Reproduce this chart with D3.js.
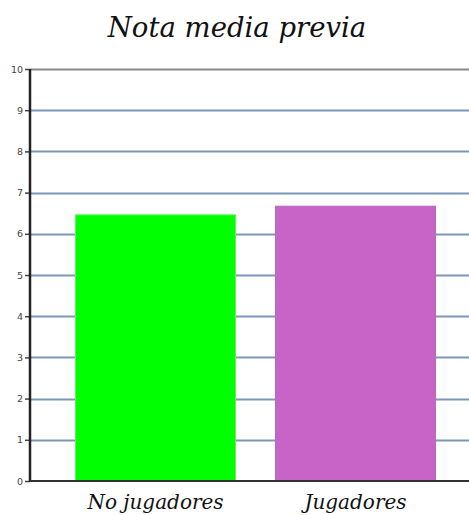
<!DOCTYPE html>
<html><head><meta charset="utf-8">
<script src="https://cdn.jsdelivr.net/npm/d3@7"></script>
<style>body{margin:0;background:#fff}svg{display:block}</style>
</head><body><svg id="c" width="469" height="515"></svg>
<script>
const categories = ["No jugadores", "Jugadores"];
const values = [6.46, 6.67];
const colors = ["#00ff00", "#c864c8"];
const strokes = ["#66ee66", "#b868c0"];
const yTicks = [0,1,2,3,4,5,6,7,8,9,10];
const title = "Nota media previa";

const svg = d3.select("#c");
const axisX = 30, right = 480, y0 = 481, y10 = 69;
const y = d3.scaleLinear().domain([0,10]).range([y0, y10]);
const x = d3.scaleBand().domain(categories).range([55.5, 455.5]).paddingInner(0.2).paddingOuter(0.1);

// gridlines
svg.append("g").selectAll("line").data(yTicks.filter(d=>d>0 && d<10)).join("line")
  .attr("x1", axisX).attr("x2", right)
  .attr("y1", d=>Math.round(y(d))+0.5).attr("y2", d=>Math.round(y(d))+0.5)
  .attr("stroke", "#7b98b8").attr("stroke-width", 2);
// top line
svg.append("line").attr("x1", axisX).attr("x2", right)
  .attr("y1", Math.round(y(10))+0.5).attr("y2", Math.round(y(10))+0.5)
  .attr("stroke", "#888").attr("stroke-width", 2);

// bars
svg.append("g").selectAll("rect").data(values).join("rect")
  .attr("x", (d,i)=>x(categories[i]))
  .attr("width", x.bandwidth())
  .attr("y", d=>y(d))
  .attr("height", d=>y(0)-y(d))
  .attr("fill", (d,i)=>colors[i])
  .attr("stroke", (d,i)=>strokes[i]).attr("stroke-width", 1);

// y axis
const ax = svg.append("g").attr("transform", `translate(${axisX},0)`)
  .call(d3.axisLeft(y).tickValues(yTicks).tickSize(5).tickFormat(d3.format("d")));
ax.select(".domain").remove();
ax.selectAll(".tick line").attr("stroke", "#444").attr("stroke-width", 1.5);
ax.selectAll(".tick text").attr("font-family", "DejaVu Sans").attr("font-size", 9.5).attr("fill", "#444").attr("x", -7);
svg.append("line").attr("x1", axisX).attr("x2", axisX).attr("y1", y(10)).attr("y2", y(0)+1)
  .attr("stroke", "#222").attr("stroke-width", 2.5);
// baseline
svg.append("line").attr("x1", axisX).attr("x2", right).attr("y1", y(0)).attr("y2", y(0))
  .attr("stroke", "#333").attr("stroke-width", 2);

// category labels
svg.append("g").selectAll("text").data(categories).join("text")
  .attr("x", d=>x(d)+x.bandwidth()/2).attr("y", 509)
  .attr("text-anchor", "middle")
  .attr("font-family", "DejaVu Serif").attr("font-style", "italic").attr("font-size", 20)
  .attr("fill", "#111").text(d=>d);

svg.append("text").attr("x", 237).attr("y", 37).attr("text-anchor", "middle")
  .attr("font-family", "DejaVu Serif").attr("font-style", "italic").attr("font-size", 27.5)
  .attr("fill", "#111").text(title);
</script></body></html>
